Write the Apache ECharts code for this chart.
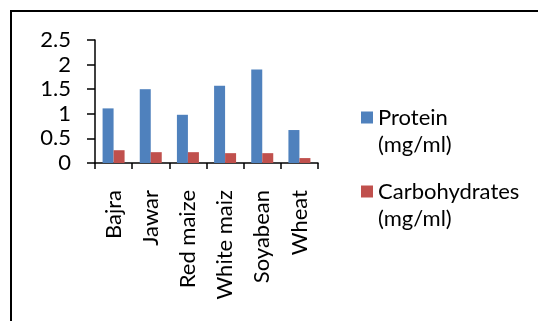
<!DOCTYPE html>
<html><head><meta charset="utf-8">
<script src="https://cdn.jsdelivr.net/npm/echarts@6/dist/echarts.min.js"></script>
<style>html,body{margin:0;padding:0;background:#fff}#c{width:538px;height:321px}</style>
</head><body><div id="c"></div>
<script>
var categories = ['Bajra', 'Jawar', 'Red maize', 'White maiz', 'Soyabean', 'Wheat'];
var protein = [1.11, 1.50, 0.98, 1.57, 1.90, 0.67];
var carbohydrates = [0.26, 0.22, 0.22, 0.20, 0.20, 0.10];
var yTicks = [0, 0.5, 1, 1.5, 2, 2.5];
var seriesNames = ['Protein (mg/ml)', 'Carbohydrates (mg/ml)'];

var FONT = 'Lato';
var FS = 22;
var chart = echarts.init(document.getElementById('c'), null, {renderer: 'canvas'});
function legendFor(name, top) {
  return {
    data: [name], left: 361, top: top, orient: 'vertical', padding: 0,
    itemWidth: 12, itemHeight: 12, itemGap: 0, icon: 'rect',
    formatter: function (n) { return ' \n' + n.replace(' (', '\n('); },
    textStyle: {fontFamily: FONT, fontSize: FS, color: '#000', lineHeight: 27},
    selectedMode: false
  };
}
chart.setOption({
  animation: false,
  backgroundColor: '#fff',
  graphic: [{type: 'rect', shape: {x: 11, y: 11, width: 700, height: 500},
    style: {fill: 'none', stroke: '#000', lineWidth: 2}}],
  legend: [legendFor(seriesNames[0], 77), legendFor(seriesNames[1], 151)],
  grid: {left: 95, right: 220, top: 40, bottom: 158, containLabel: false},
  xAxis: {
    type: 'category', data: categories,
    axisLine: {lineStyle: {color: '#000', width: 1.5}},
    axisTick: {show: true, length: 6, lineStyle: {color: '#000', width: 1.5}},
    axisLabel: {rotate: 90, margin: 27, fontFamily: FONT, fontSize: FS, color: '#000', interval: 0}
  },
  yAxis: {
    type: 'value', min: 0, max: 2.5, interval: 0.5,
    axisLine: {show: true, lineStyle: {color: '#000', width: 1.5}},
    axisTick: {show: true, length: 8, lineStyle: {color: '#000', width: 1.5}},
    splitLine: {show: false},
    axisLabel: {margin: 24, fontFamily: FONT, fontSize: FS, color: '#000',
      formatter: function (v) { return yTicks.indexOf(v) >= 0 ? String(v) : ''; }}
  },
  series: [
    {name: seriesNames[0], type: 'bar', data: protein, barWidth: 11, barGap: '0%', itemStyle: {color: '#4F81BD'}},
    {name: seriesNames[1], type: 'bar', data: carbohydrates, barWidth: 11, barGap: '0%', itemStyle: {color: '#C0504D'}}
  ]
});
</script></body></html>
